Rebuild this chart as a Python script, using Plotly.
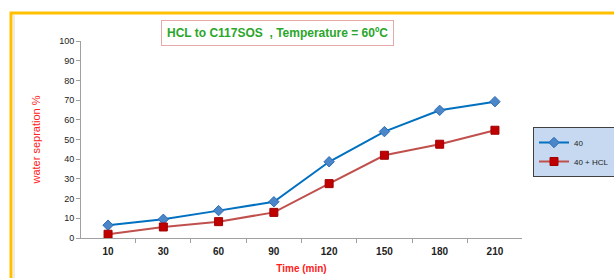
import plotly.graph_objects as go

categories = ["10", "30", "60", "90", "120", "150", "180", "210"]
series_40 = [6.5, 9.5, 13.9, 18.4, 38.7, 54.0, 64.8, 69.2]
series_40_hcl = [1.9, 5.6, 8.3, 13.0, 27.6, 42.0, 47.6, 54.7]
y_ticks = [0, 10, 20, 30, 40, 50, 60, 70, 80, 90, 100]

W, H = 614, 278
L, R, T, B = 81, 92, 41, 40
pw = W - L - R
ph = H - T - B

def px(x):
    return (x - L) / pw

def py(y):
    return (H - B - y) / ph

fig = go.Figure()
fig.add_trace(go.Scatter(
    x=categories, y=series_40, name="40", mode="lines+markers",
    line=dict(color="#0070c0", width=2),
    marker=dict(symbol="diamond", size=8, color="#4a86c8", line=dict(color="#2e6db4", width=1)),
))
fig.add_trace(go.Scatter(
    x=categories, y=series_40_hcl, name="40 + HCL", mode="lines+markers",
    line=dict(color="#c0504d", width=2),
    marker=dict(symbol="square", size=8, color="#c00000", line=dict(color="#a00000", width=1)),
))

fig.update_layout(
    width=W, height=H,
    margin=dict(l=L, r=R, t=T, b=B, autoexpand=False),
    paper_bgcolor="white", plot_bgcolor="white",
    font=dict(family="Liberation Sans, Arial, sans-serif", size=9, color="#222222"),
    showlegend=True,
    legend=dict(
        x=px(533), y=py(127), xanchor="left", yanchor="top",
        bgcolor="#c6d9f1", bordercolor="#404040", borderwidth=1,
        font=dict(size=8, color="#222222"),
        itemwidth=30, tracegroupgap=0,
    ),
    xaxis=dict(
        type="category", showgrid=False, zeroline=False,
        showline=True, linecolor="#a0a0a0", linewidth=1,
        ticks="outside", ticklen=4, tickcolor="#a0a0a0", tickson="boundaries",
        ticklabelstandoff=4,
        tickfont=dict(size=10, color="#222222", family="Liberation Sans, Arial, sans-serif"),
        title=dict(text="<b>Time (min)</b>", font=dict(size=10, color="#ff2020"), standoff=8),
    ),
    yaxis=dict(
        range=[0, 100], tickvals=y_ticks, showgrid=False, zeroline=False,
        showline=True, linecolor="#a0a0a0", linewidth=1,
        ticks="outside", ticklen=4, tickcolor="#a0a0a0",
        tickfont=dict(size=9, color="#222222"),
        tickprefix="<b>", ticksuffix="</b>",
        title=dict(text="water sepration %", font=dict(size=11, color="#ff2020"), standoff=16),
    ),
)
fig.update_xaxes(tickprefix="<b>", ticksuffix="</b>")

# outer orange frame
fig.add_shape(type="rect", xref="paper", yref="paper",
              x0=px(11), x1=px(640), y0=py(300), y1=py(13),
              line=dict(color="#ffc000", width=3), fillcolor="rgba(0,0,0,0)", layer="below")
fig.add_shape(type="line", xref="paper", yref="paper",
              x0=px(14), x1=px(14), y0=py(300), y1=py(15),
              line=dict(color="#d8d8d8", width=1), layer="below")

# title box
fig.add_annotation(
    xref="paper", yref="paper", x=px(277), y=py(33.5), xanchor="center", yanchor="middle",
    text="<b>HCL to C117SOS  , Temperature = 60ºC</b>", showarrow=False,
    font=dict(size=12, color="#2aa62a", family="Liberation Sans, Arial, sans-serif"),
    bgcolor="white", bordercolor="#e6a8a8", borderwidth=1, borderpad=5,
)

fig.write_html("out.html", config={"displayModeBar": False},
               post_script="document.body.style.margin='0';")
